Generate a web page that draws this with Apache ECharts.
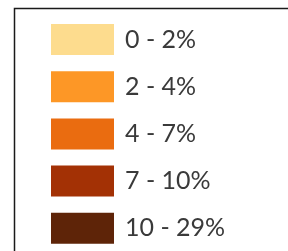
<!DOCTYPE html>
<html>
<head>
<meta charset="utf-8">
<script src="https://cdn.jsdelivr.net/npm/echarts@6/dist/echarts.min.js"></script>
<style>
  html, body { margin: 0; padding: 0; background: #fff; }
  #chart { width: 288px; height: 251px; }
</style>
</head>
<body>
<div id="chart"></div>
<script>
// legend classes (share of ...)
const classes = ['0 - 2%', '2 - 4%', '4 - 7%', '7 - 10%', '10 - 29%']
const classColors = ['#fddc8e', '#fd9726', '#ea6c10', '#a33105', '#5e2408']

const chart = echarts.init(document.getElementById('chart'))

chart.setOption({
  animation: false,
  // frame around the legend (runs off the right and bottom edges)
  graphic: [
    {
      type: 'rect',
      shape: { x: 14.5, y: 8.5, width: 400, height: 400 },
      style: { fill: 'none', stroke: '#1a1a1a', lineWidth: 1.5 },
      silent: true
    }
  ],
  legend: {
    orient: 'vertical',
    left: 51,
    top: 24,
    padding: 0,
    icon: 'rect',
    itemWidth: 63,
    itemHeight: 31,
    itemGap: 16.2,
    selectedMode: false,
    data: classes,
    textStyle: {
      fontFamily: 'Lato',
      fontSize: 25,
      color: '#3a3a3a',
      padding: [0, 0, 0, 6]
    }
  },
  series: [
    {
      type: 'pie',
      radius: 0,
      center: [-100, -100],
      silent: true,
      label: { show: false },
      labelLine: { show: false },
      data: classes.map((c, i) => ({
        name: c,
        value: 1,
        itemStyle: { color: classColors[i] }
      }))
    }
  ]
})
</script>
</body>
</html>
